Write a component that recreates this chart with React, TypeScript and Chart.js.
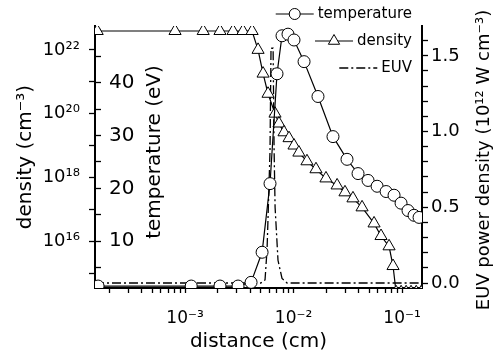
import React, { useEffect, useRef } from "react";
import { Chart, registerables } from "chart.js";

Chart.register(...registerables);

const FONT = "'DejaVu Sans', sans-serif";

// ---- data ----
const tempX = [1.58e-4, 1.14e-3, 2.1e-3, 3.08e-3, 4.06e-3, 5.13e-3, 6.07e-3, 7.04e-3, 7.83e-3, 8.89e-3, 1.01e-2, 1.25e-2, 1.68e-2, 2.31e-2, 3.11e-2, 3.93e-2, 4.86e-2, 5.89e-2, 7.13e-2, 8.44e-2, 9.79e-2, 0.1135, 0.129, 0.1435];
const tempY = [1.5, 1.5, 1.5, 1.5, 2.2, 7.9, 20.9, 41.7, 48.9, 49.2, 48.1, 44.0, 37.4, 29.8, 25.5, 22.8, 21.5, 20.4, 19.4, 18.7, 17.2, 15.8, 14.9, 14.5];

const densX = [1.55e-4, 8.09e-4, 1.47e-3, 2.1e-3, 2.77e-3, 3.42e-3, 4.15e-3, 4.71e-3, 5.24e-3, 5.82e-3, 6.75e-3, 7.34e-3, 8.17e-3, 9.09e-3, 1.01e-2, 1.12e-2, 1.33e-2, 1.61e-2, 1.99e-2, 2.52e-2, 2.98e-2, 3.53e-2, 4.28e-2, 5.52e-2, 6.4e-2, 7.59e-2, 8.26e-2, 8.81e-2, 9.8e-2, 0.109, 0.121, 0.135, 0.15];
const densY = [3.9e22, 3.9e22, 3.9e22, 3.9e22, 3.9e22, 3.9e22, 3.9e22, 1.0e22, 1.8e21, 4.2e20, 1.0e20, 4.9e19, 2.6e19, 1.7e19, 1.0e19, 6.0e18, 3.2e18, 1.8e18, 9.3e17, 5.6e17, 3.4e17, 2.2e17, 1.15e17, 3.6e16, 1.45e16, 6.9e15, 1.66e15, 2.5e14, 2.5e14, 2.5e14, 2.5e14, 2.5e14, 2.5e14];

const euvX = [1.48e-4, 5.0e-3, 5.46e-3, 5.7e-3, 5.82e-3, 6.07e-3, 6.2e-3, 6.48e-3, 6.62e-3, 6.76e-3, 7.19e-3, 7.83e-3, 8.71e-3, 0.153];
const euvY = [0, 0, 0.02, 0.22, 0.43, 0.875, 1.55, 1.55, 0.875, 0.5, 0.15, 0.03, 0, 0];

// ---- axes ----
const xMin = 1.48e-4;
const xMax = 0.1527;
const xLabelExps = [-3, -2, -1];
const densMin = 3.4e14;
const densMax = 5.6e22;
const densTickExps = [15, 16, 17, 18, 19, 20, 21, 22];
const densLabelExps = [16, 18, 20, 22];
const tempMin = 1.13;
const tempMax = 50.75;
const tempTicks = [5, 10, 15, 20, 25, 30, 35, 40, 45, 50];
const tempLabels = [10, 20, 30, 40];
const euvMin = -0.033;
const euvMax = 1.697;
const euvTicks = [0, 0.1, 0.2, 0.3, 0.4, 0.5, 0.6, 0.7, 0.8, 0.9, 1.0, 1.1, 1.2, 1.3, 1.4, 1.5, 1.6];
const euvLabels = [0, 0.5, 1.0, 1.5];

const seriesNames = ["temperature", "density", "EUV"];
const titles = {
  x: "distance (cm)",
  density: "density (cm⁻³)",
  temperature: "temperature (eV)",
  euv: "EUV power density (10¹² W cm⁻³)",
};

const SUP: Record<string, string> = { "-": "⁻", "0": "⁰", "1": "¹", "2": "²", "3": "³", "4": "⁴", "5": "⁵", "6": "⁶", "7": "⁷", "8": "⁸", "9": "⁹" };
const sup = (s: string) => s.split("").map((c) => SUP[c] || c).join("");

const xTickValues: number[] = [];
for (let e = -4; e <= -1; e++) {
  for (let m = 1; m <= 9; m++) {
    const v = m * Math.pow(10, e);
    if (v >= xMin && v <= xMax) xTickValues.push(v);
  }
}

const powLabel = (v: number, exps: number[]) => {
  const e = Math.round(Math.log10(v));
  if (Math.abs(v / Math.pow(10, e) - 1) < 1e-6 && exps.includes(e)) return "10" + sup(String(e));
  return "";
};

const drawMarker = (ctx: CanvasRenderingContext2D, style: string, x: number, y: number, r: number) => {
  ctx.beginPath();
  if (style === "circle") {
    ctx.arc(x, y, r, 0, Math.PI * 2);
  } else if (style === "triangle") {
    let rad = 0;
    ctx.moveTo(x + Math.sin(rad) * r, y - Math.cos(rad) * r);
    rad += (2 * Math.PI) / 3;
    ctx.lineTo(x + Math.sin(rad) * r, y - Math.cos(rad) * r);
    rad += (2 * Math.PI) / 3;
    ctx.lineTo(x + Math.sin(rad) * r, y - Math.cos(rad) * r);
    ctx.closePath();
  }
  ctx.fillStyle = "#fff";
  ctx.fill();
  ctx.strokeStyle = "#000";
  ctx.lineWidth = 1;
  ctx.stroke();
};

const overlayPlugin = {
  id: "overlay",
  afterDraw(chart: any) {
    const ctx: CanvasRenderingContext2D = chart.ctx;
    const area = chart.chartArea;
    ctx.save();
    ctx.fillStyle = "#000";
    ctx.textAlign = "center";
    ctx.textBaseline = "middle";
    // temperature title (inside the plot, next to its mirrored ticks)
    ctx.save();
    ctx.font = `20px ${FONT}`;
    ctx.translate(area.left + 60, 152);
    ctx.rotate(-Math.PI / 2);
    ctx.fillText(titles.temperature, 0, 0);
    ctx.restore();
    // EUV title on the right, reading upward
    ctx.save();
    ctx.font = `18px ${FONT}`;
    ctx.translate(484, 160);
    ctx.rotate(-Math.PI / 2);
    ctx.fillText(titles.euv, 0, 0);
    ctx.restore();
    // legend
    ctx.font = `15px ${FONT}`;
    ctx.textAlign = "right";
    const textRight = area.right - 10;
    chart.data.datasets.forEach((ds: any, i: number) => {
      const y = 14 + i * 27;
      ctx.fillStyle = "#000";
      ctx.fillText(ds.label, textRight, y);
      const w = ctx.measureText(ds.label).width;
      const x2 = textRight - w - 4;
      const x1 = x2 - 38;
      ctx.save();
      ctx.strokeStyle = "#000";
      ctx.lineWidth = ds.borderWidth;
      ctx.setLineDash(ds.borderDash || []);
      ctx.beginPath();
      ctx.moveTo(x1, y);
      ctx.lineTo(x2, y);
      ctx.stroke();
      ctx.setLineDash([]);
      if (ds.pointRadius > 0) drawMarker(ctx, ds.pointStyle, (x1 + x2) / 2, y, ds.pointRadius - 0.5);
      ctx.restore();
    });
    ctx.restore();
  },
};

export default function App() {
  const canvasRef = useRef<HTMLCanvasElement | null>(null);

  useEffect(() => {
    if (!canvasRef.current) return;
    const black = "#000";
    const chart = new Chart(canvasRef.current, {
      type: "line",
      data: {
        datasets: [
          {
            label: seriesNames[0],
            data: tempX.map((x, i) => ({ x, y: tempY[i] })),
            yAxisID: "yT",
            borderColor: black,
            borderWidth: 1.2,
            pointStyle: "circle",
            pointRadius: 6,
            pointBackgroundColor: "#fff",
            pointBorderColor: black,
            pointBorderWidth: 1,
            tension: 0,
          },
          {
            label: seriesNames[1],
            data: densX.map((x, i) => ({ x, y: densY[i] })),
            yAxisID: "yD",
            borderColor: black,
            borderWidth: 1.2,
            pointStyle: "triangle",
            pointRadius: 7,
            pointBackgroundColor: "#fff",
            pointBorderColor: black,
            pointBorderWidth: 1,
            tension: 0,
          },
          {
            label: seriesNames[2],
            data: euvX.map((x, i) => ({ x, y: euvY[i] })),
            yAxisID: "yE",
            borderColor: black,
            borderWidth: 1.3,
            borderDash: [9, 3, 2, 3],
            pointRadius: 0,
            tension: 0,
          },
        ],
      },
      options: {
        responsive: false,
        animation: false,
        events: [],
        layout: { padding: { top: 25, left: 0, right: 0, bottom: 0 } },
        plugins: { legend: { display: false }, tooltip: { enabled: false } },
        scales: {
          x: {
            type: "logarithmic",
            position: "bottom",
            min: xMin,
            max: xMax,
            afterBuildTicks: (s: any) => {
              s.ticks = xTickValues.map((v) => ({ value: v }));
            },
            afterFit: (s: any) => {
              s.height = 67;
            },
            ticks: {
              autoSkip: false,
              maxRotation: 0,
              color: black,
              font: { family: FONT, size: 17 },
              padding: 15,
              callback: (v: any) => powLabel(Number(v), xLabelExps),
            },
            grid: { display: true, drawOnChartArea: false, drawTicks: true, tickLength: 5, color: black, tickWidth: 1.3 },
            border: { display: true, color: black, width: 2 },
            title: { display: true, text: titles.x, color: black, font: { family: FONT, size: 20 }, padding: { top: 0, bottom: 1 } },
          },
          yD: {
            type: "logarithmic",
            position: "left",
            weight: 2,
            min: densMin,
            max: densMax,
            afterBuildTicks: (s: any) => {
              s.ticks = densTickExps.map((e) => ({ value: Math.pow(10, e) }));
            },
            afterFit: (s: any) => {
              s.width = 95;
            },
            ticks: {
              autoSkip: false,
              color: black,
              font: { family: FONT, size: 18 },
              padding: 9,
              callback: (v: any) => powLabel(Number(v), densLabelExps),
            },
            grid: { display: true, drawOnChartArea: false, drawTicks: true, tickLength: 6, color: black, tickWidth: 1.3 },
            border: { display: true, color: black, width: 2 },
            title: { display: true, text: titles.density, color: black, font: { family: FONT, size: 20 }, padding: { top: 14, bottom: 0 } },
          },
          yT: {
            type: "linear",
            position: "left",
            weight: 1,
            min: tempMin,
            max: tempMax,
            afterBuildTicks: (s: any) => {
              s.ticks = tempTicks.map((v) => ({ value: v }));
            },
            afterFit: (s: any) => {
              s.width = 0;
            },
            ticks: {
              autoSkip: false,
              mirror: true,
              color: black,
              font: { family: FONT, size: 20 },
              padding: 14,
              callback: (v: any) => (tempLabels.includes(Number(v)) ? String(v) : ""),
            },
            grid: { display: true, drawOnChartArea: false, drawTicks: true, tickLength: -6, color: black, tickWidth: 1.3 },
            border: { display: true, color: black, width: 2 },
          },
          yE: {
            type: "linear",
            position: "right",
            min: euvMin,
            max: euvMax,
            afterBuildTicks: (s: any) => {
              s.ticks = euvTicks.map((v) => ({ value: v }));
            },
            afterFit: (s: any) => {
              s.width = 74;
            },
            ticks: {
              autoSkip: false,
              color: black,
              font: { family: FONT, size: 18 },
              padding: 3,
              callback: (v: any) => {
                const n = Number(v);
                return euvLabels.some((l) => Math.abs(l - n) < 1e-6) ? n.toFixed(1) : "";
              },
            },
            grid: { display: true, drawOnChartArea: false, drawTicks: true, tickLength: 6, color: black, tickWidth: 1.3 },
            border: { display: true, color: black, width: 2 },
          },
        },
      } as any,
      plugins: [overlayPlugin as any],
    });
    return () => chart.destroy();
  }, []);

  return (
    <div style={{ position: "absolute", left: 0, top: 0, width: 496, height: 355, background: "#fff" }}>
      <canvas ref={canvasRef} width={496} height={355} style={{ display: "block" }} />
    </div>
  );
}
